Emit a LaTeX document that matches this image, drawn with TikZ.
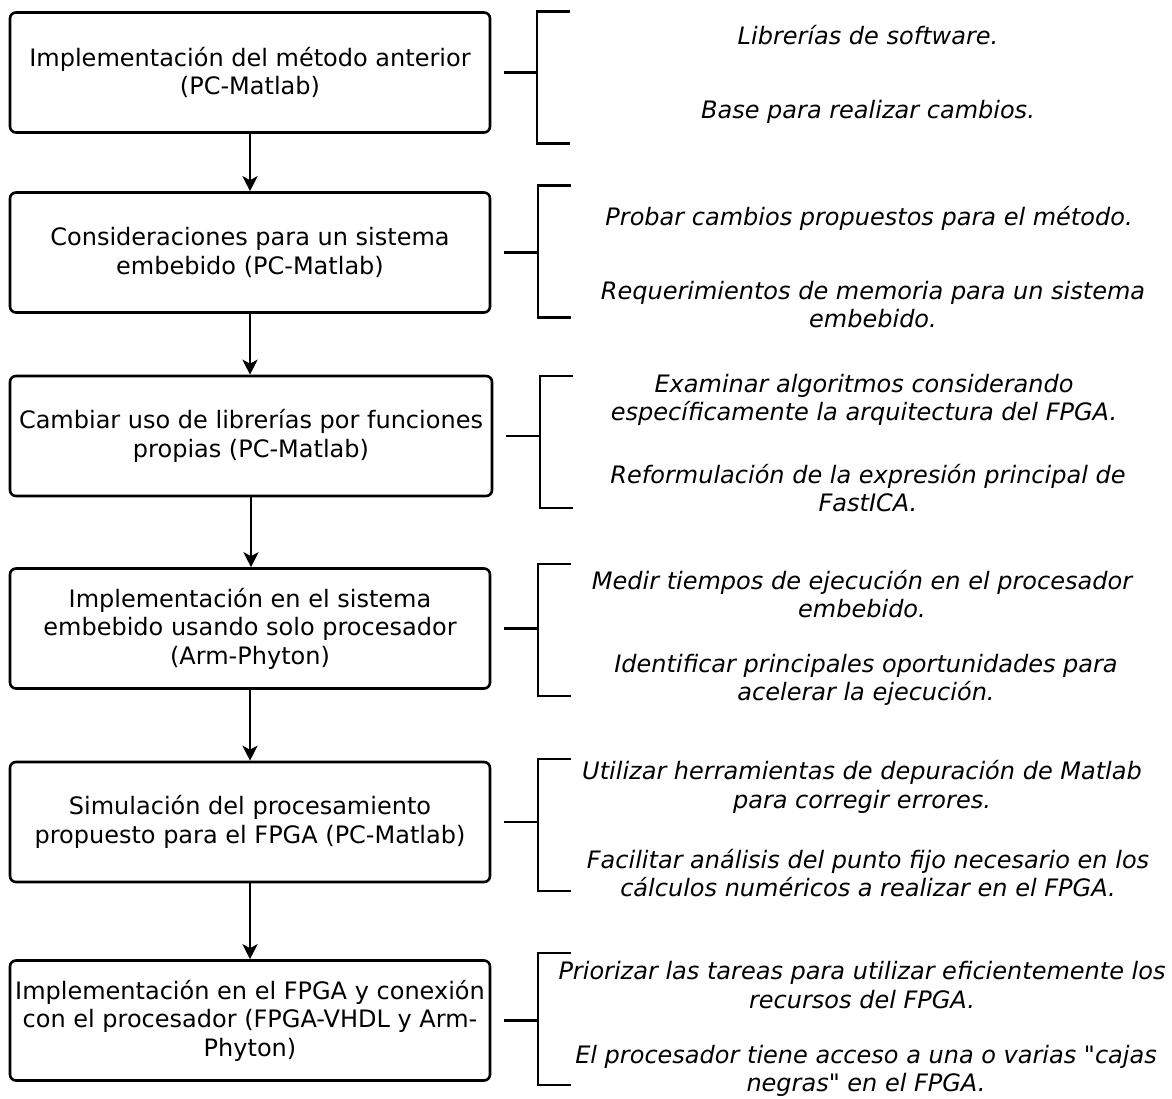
\documentclass[tikz,border=0pt]{standalone}
\usepackage{fontspec}
\setmainfont{DejaVu Sans}[Ligatures=TeXOff]
\usetikzlibrary{arrows.meta,calc}
\begin{document}
\begin{tikzpicture}[x=1pt,y=-1pt,
  box/.style={draw, line width=2.6pt, rounded corners=6pt, minimum width=480pt, minimum height=120pt, align=center, inner sep=0pt, font=\fontsize{24}{28.6}\selectfont},
  note/.style={align=center, inner sep=0pt, font=\fontsize{24}{28.6}\selectfont\itshape},
  brk/.style={line width=2.6pt},
  arr/.style={line width=2.6pt, -{Stealth[length=15pt,width=15pt,inset=4pt]}}]
\useasboundingbox (0,0) rectangle (1172,1098);
\node[box] (b1) at (250,72.5) {Implementación del método anterior\\(PC-Matlab)};
\node[box] (b2) at (250,252.5) {Consideraciones para un sistema\\embebido (PC-Matlab)};
\node[box, minimum width=482pt] (b3) at (251,436) {Cambiar uso de librerías por funciones\\propias (PC-Matlab)};
\node[box] (b4) at (250,628.5) {Implementación en el sistema\\embebido usando solo procesador\\(Arm-Phyton)};
\node[box] (b5) at (250,822) {Simulación del procesamiento\\propuesto para el FPGA (PC-Matlab)};
\node[box] (b6) at (250,1020.5) {Implementación en el FPGA y conexión\\con el procesador (FPGA-VHDL y Arm-\\Phyton)};
\foreach \a/\b in {b1/b2,b2/b3,b3/b4,b4/b5,b5/b6}
  \draw[arr] (\a.south) -- (\a.south |- \b.north);
% brackets
\coordinate (k1) at (537,77.5);
\coordinate (k2) at (538,251.5);
\coordinate (k3) at (540,442);
\coordinate (k4) at (538,630);
\coordinate (k5) at (538,825);
\coordinate (k6) at (538,1019);
\foreach \i in {1,...,6}{
  \draw[brk] ([xshift=13pt]b\i.east) -- (b\i.east -| k\i);
  \draw[brk] ($(k\i)+(33,-66)$) -- ($(k\i)+(0,-66)$) -- ($(k\i)+(0,66)$) -- ($(k\i)+(33,66)$);
}
\node[note] (n1a) at (868,35) {Librerías de software.};
\node[note] (n1b) at (868,112) {Base para realizar cambios.};
\node[note] (n2a) at (869,218) {Probar cambios propuestos para el método.};
\node[note] (n2b) at (873,304.5) {Requerimientos de memoria para un sistema\\embebido.};
\node[note] (n3a) at (864,400) {Examinar algoritmos considerando\\específicamente la arquitectura del FPGA.};
\node[note] (n3b) at (868,488) {Reformulación de la expresión principal de\\FastICA.};
\node[note] (n4a) at (862,594) {Medir tiempos de ejecución en el procesador\\embebido.};
\node[note] (n4b) at (866,680) {Identificar principales oportunidades para\\acelerar la ejecución.};
\node[note] (n5a) at (862,787) {Utilizar herramientas de depuración de Matlab\\para corregir errores.};
\node[note] (n5b) at (868,873) {Facilitar análisis del punto fijo necesario en los\\cálculos numéricos a realizar en el FPGA.};
\node[note] (n6a) at (862,985) {Priorizar las tareas para utilizar eficientemente los\\recursos del FPGA.};
\node[note] (n6b) at (866,1071) {El procesador tiene acceso a una o varias "cajas\\negras" en el FPGA.};
\end{tikzpicture}
\end{document}
